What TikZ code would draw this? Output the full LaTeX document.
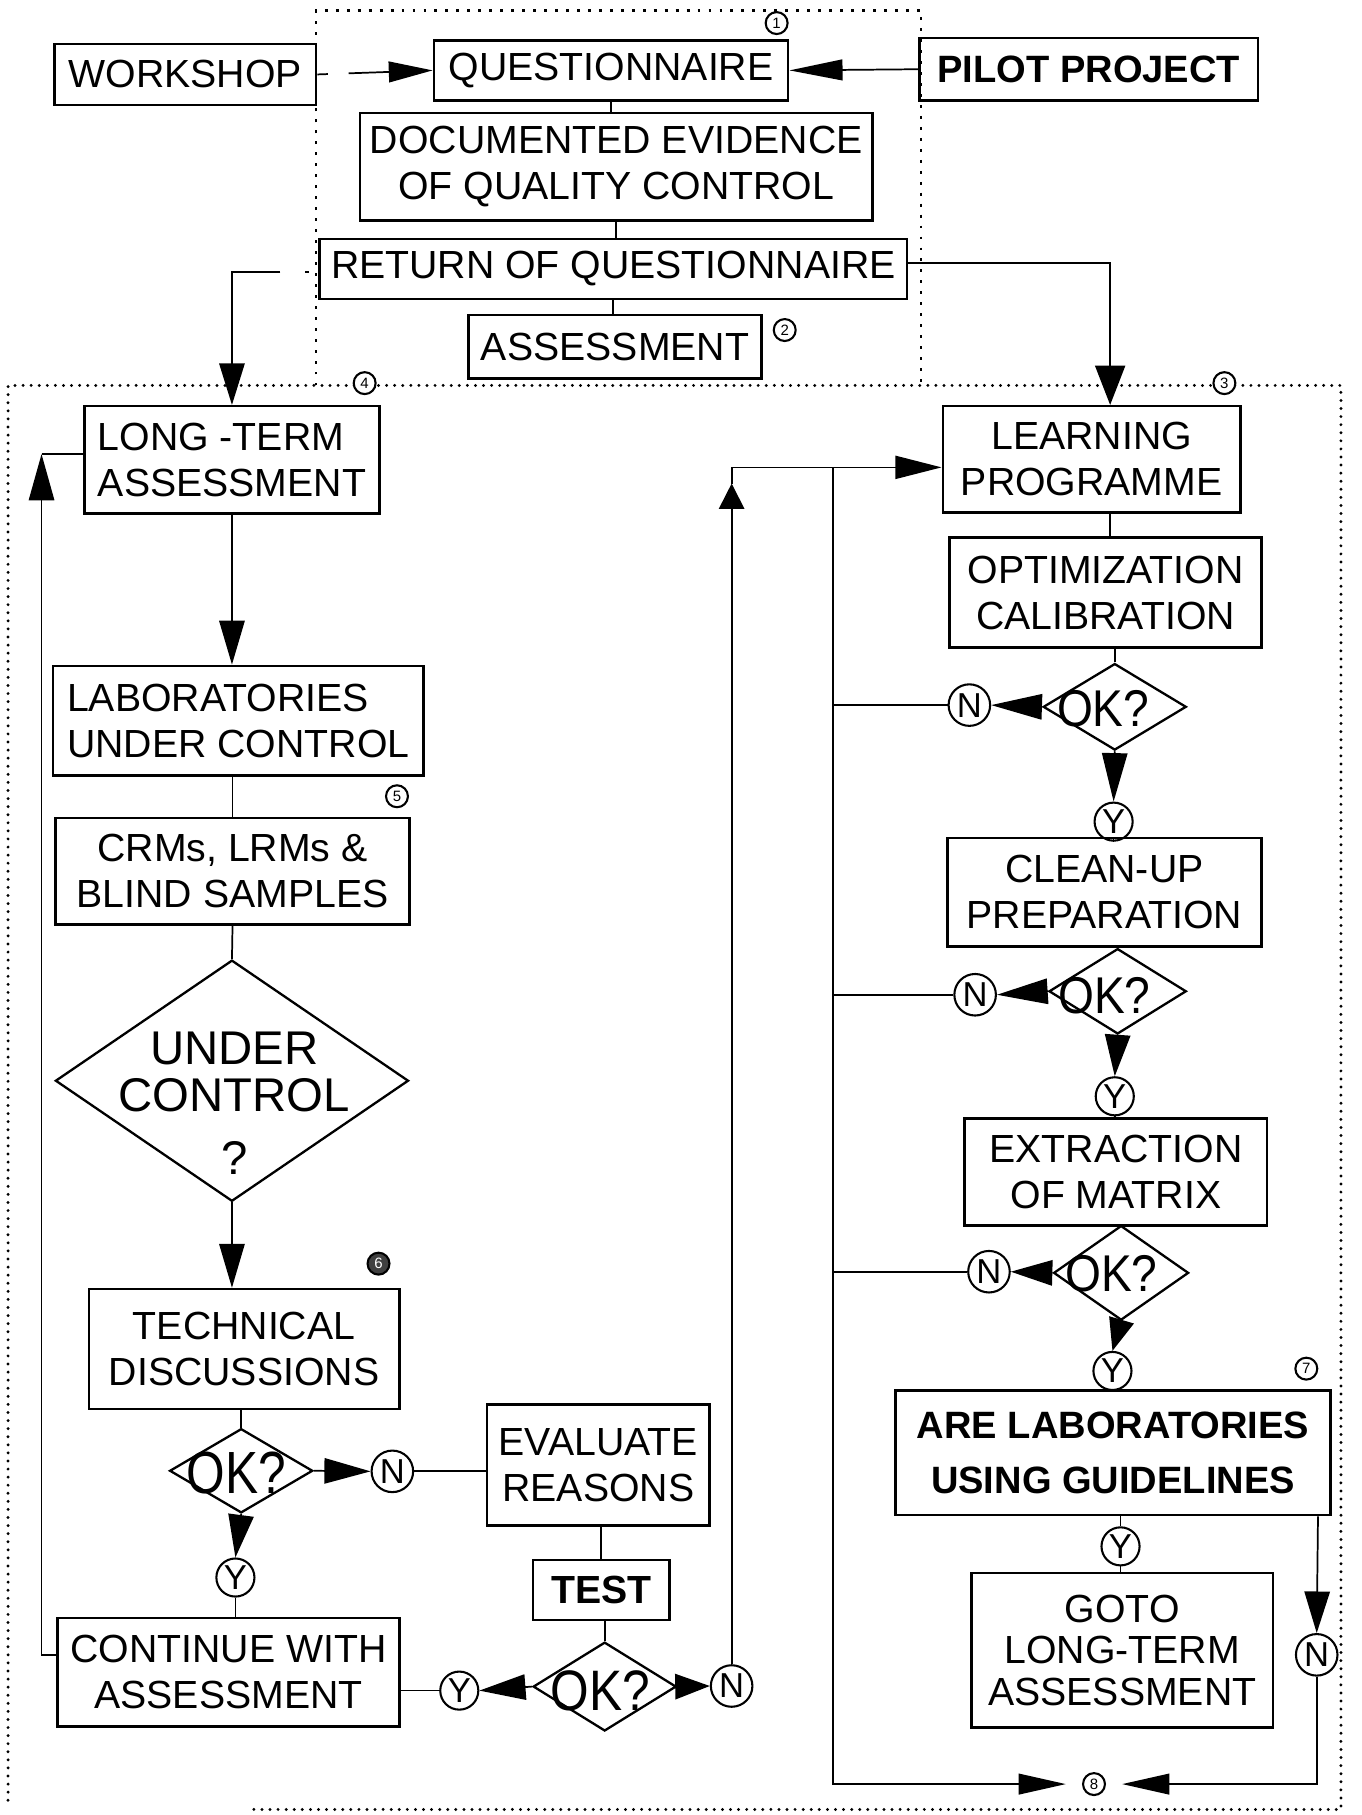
\documentclass[tikz,border=0pt]{standalone}
\usepackage{fontspec}
\usepackage{graphicx}
\setmainfont{Liberation Sans}
\usetikzlibrary{arrows.meta,shapes.geometric}
\begin{document}
\begin{tikzpicture}[x=1pt,y=-1pt,
  box/.style={draw, line width=2.2pt, rectangle, inner sep=0pt, align=center, font=\fontsize{34}{40}\selectfont},
  boxl/.style={box, align=left},
  dia/.style={draw, line width=2pt, diamond, inner sep=0pt},
  okl/.style={inner sep=0pt, font=\fontsize{43}{43}\selectfont},
  okr/.style={inner sep=0pt, font=\fontsize{40}{40}\selectfont},
  yn/.style={draw, circle, line width=1.8pt, inner sep=0pt, minimum size=36pt, fill=white, font=\fontsize{30}{32}\selectfont},
  ys/.style={yn, minimum size=33pt},
  num/.style={draw, circle, line width=1.8pt, inner sep=0pt, minimum size=19pt, fill=white, font=\fontsize{13}{14}\selectfont},
  conn/.style={line width=1.5pt},
  arr/.style={conn, -{Triangle[length=#1,width=22pt]}},
  arr/.default=38pt,
  dotbig/.style={line width=2.8pt, line cap=round, dash pattern=on 0pt off 7pt},
  dotsmall/.style={line width=2pt, dash pattern=on 2.5pt off 7pt},
]
\useasboundingbox (0,0) rectangle (1180.2,1572.8);

% dotted frames
\draw[dotsmall] (274,334) -- (274,9) -- (798,9) -- (798,334);
\draw[dotbig] (7,1560) -- (7,334) -- (1162,334) -- (1162,1568) -- (217,1568);

% top part
\node[box, minimum width=227pt, minimum height=53pt] (ws) at (160.5,64.5) {WORKSHOP};
\node[box, minimum width=307pt, minimum height=52pt] (q) at (529.5,61) {QUESTIONNAIRE};
\node[box, minimum width=293pt, minimum height=54pt, font=\fontsize{33}{40}\selectfont\bfseries] (pilot) at (943.5,60) {PILOT PROJECT};
\node[box, minimum width=444pt, minimum height=93pt] (doc) at (534,144.5) {DOCUMENTED EVIDENCE\\OF QUALITY CONTROL};
\node[box, minimum width=509pt, minimum height=52pt] (ret) at (531.5,233) {RETURN OF QUESTIONNAIRE};
\node[box, minimum width=254pt, minimum height=55pt] (asm) at (533,300.5) {ASSESSMENT};

% left column
\node[boxl, minimum width=256pt, minimum height=93pt] (lt) at (201,398.5) {LONG -TERM\\ASSESSMENT};
\node[boxl, minimum width=321pt, minimum height=95pt] (lab) at (206.5,624.5) {LABORATORIES\\UNDER CONTROL};
\node[box, minimum width=307pt, minimum height=92pt] (crm) at (201.5,755) {CRMs, LRMs \&\\BLIND SAMPLES};
\node[dia, minimum width=306pt, minimum height=209pt] (uc) at (201,936.5) {};
\node[inner sep=0pt, align=center, font=\fontsize{41}{41}\selectfont] (uct) at (203,956) {UNDER\\CONTROL\\[14pt]?};
\node[box, minimum width=269pt, minimum height=104pt] (tech) at (211.5,1169) {TECHNICAL\\DISCUSSIONS};
\node[dia, minimum width=124pt, minimum height=73pt] (ok1) at (209,1274.5) {};
\node[okl] (ok1t) at (205,1276) {\scalebox{1}[1.2]{OK?}};
\node[yn] (n1) at (340,1275) {N};
\node[ys] (y1) at (204,1367) {Y};
\node[box, minimum width=296pt, minimum height=94pt] (cont) at (198,1449) {CONTINUE WITH\\ASSESSMENT};
\node[box, minimum width=193pt, minimum height=105pt] (eval) at (518.5,1269.5) {EVALUATE\\REASONS};
\node[box, minimum width=118pt, minimum height=52pt, font=\fontsize{34}{40}\selectfont\bfseries] (test) at (521,1378) {TEST};
\node[dia, minimum width=124pt, minimum height=77pt] (ok4) at (524,1461.5) {};
\node[okl] (ok4t) at (520,1465) {\scalebox{1}[1.15]{OK?}};
\node[ys] (y4) at (398,1465) {Y};
\node[yn] (n4) at (634,1461) {N};

% right column
\node[box, minimum width=258pt, minimum height=92pt] (learn) at (946,398) {LEARNING\\PROGRAMME};
\node[box, minimum width=270pt, minimum height=95pt] (opt) at (958,513.5) {OPTIMIZATION\\CALIBRATION};
\node[dia, minimum width=124pt, minimum height=75pt] (d1) at (966,612.5) {};
\node[okr] (d1t) at (956,614) {\scalebox{1}[1.12]{OK?}};
\node[yn] (nr1) at (840,611) {N};
\node[ys] (yr1) at (965,712) {Y};
\node[box, minimum width=272pt, minimum height=94pt] (clean) at (957,773) {CLEAN-UP\\PREPARATION};
\node[dia, minimum width=119pt, minimum height=74pt] (d2) at (968.5,859) {};
\node[okr] (d2t) at (957,863) {\scalebox{1}[1.12]{OK?}};
\node[yn] (nr2) at (845,862) {N};
\node[ys] (yr2) at (966,950) {Y};
\node[box, minimum width=262pt, minimum height=93pt] (ext) at (967,1015.5) {EXTRACTION\\OF MATRIX};
\node[dia, minimum width=117pt, minimum height=82pt] (d3) at (971.5,1103) {};
\node[okr] (d3t) at (963,1104) {\scalebox{1}[1.12]{OK?}};
\node[yn] (nr3) at (857,1102) {N};
\node[ys] (yr3) at (964,1188) {Y};
\node[box, minimum width=377pt, minimum height=108pt, font=\fontsize{33}{48}\selectfont\bfseries] (are) at (964.5,1259) {ARE LABORATORIES\\USING GUIDELINES};
\node[ys] (yr4) at (971,1340) {Y};
\node[box, minimum width=261pt, minimum height=134pt, font=\fontsize{34}{36}\selectfont] (goto) at (972.5,1430) {GOTO\\LONG-TERM\\ASSESSMENT};
\node[yn] (nr4) at (1141,1434) {N};
\node[num] (c8) at (948,1546) {8};

% numbered markers
\node[num] (c1) at (673,20) {1};
\node[num] (c2) at (680,286) {2};
\node[num] (c3) at (1061,332) {3};
\node[num] (c4) at (316,332) {4};
\node[num] (c5) at (344,690) {5};
\node[num, fill=black!75, text=white] (c6) at (328,1095) {6};
\node[num] (c7) at (1132,1186) {7};

% helper coordinates
\coordinate (col) at (722,405);
\coordinate (tipUp) at (634,419);
\coordinate (rt) at (962,0);
\coordinate (fb) at (36,0);
\coordinate (ltin) at ([yshift=5pt]lt.west);
\coordinate (contout) at ([yshift=15pt]cont.west);
\coordinate (learnin) at ([yshift=-7pt]learn.west);

% top connectors
\draw[conn, dash pattern=on 9pt off 18pt on 400pt, -{Triangle[length=38pt,width=18pt]}] (ws.east) -- (q.west);
\draw[conn, -{Triangle[length=46pt,width=18pt]}] (pilot.west) -- (q.east);
\draw[conn] (q.south) -- (q.south |- doc.north);
\draw[conn] (doc.south) -- (doc.south |- ret.north);
\draw[conn] (ret.south) -- (ret.south |- asm.north);
\draw[conn, dash pattern=on 0pt off 8pt on 4pt off 21pt on 1000pt, -{Triangle[length=36pt,width=22pt]}] ([yshift=-3pt]ret.west) -| (lt.north);
\draw[conn, -{Triangle[length=34pt,width=26pt]}] ([yshift=5pt]ret.east) -| (rt |- learn.north);

% left connectors
\draw[arr] (lt.south) -- (lt.south |- lab.north);
\draw[conn] (crm.north |- lab.south) -- (crm.north);
\draw[conn] (crm.south) -- (uc.north);
\draw[arr] (uc.south) -- (uc.south |- tech.north);
\draw[conn] (tech.south -| ok1.north) -- (ok1.north);
\draw[arr=40pt] (ok1.east) -- (n1.west);
\draw[conn] (n1.east) -- (n1.east -| eval.west);
\draw[arr=37pt] (ok1.south) -- (y1.north);
\draw[conn] (y1.south) -- (y1.south |- cont.north);
\draw[conn] (eval.south -| test.north) -- (test.north);
\draw[conn] (test.south -| ok4.north) -- (ok4.north);
\draw[arr=40pt] (ok4.west) -- (y4.east);
\draw[conn] (y4.west) -- (y4.west -| cont.east);
\draw[arr=30pt] (ok4.east) -- (n4.west);
\draw[arr=40pt] (contout) -| (fb |- ltin);
\draw[conn] (fb |- ltin) -- (ltin);
\draw[arr=22pt] (n4.north) -- (tipUp);
\draw[conn, -{Triangle[length=40pt,width=20pt]}] (tipUp) |- (learnin);

% right connectors
\draw[conn] (learn.south -| rt) -- (opt.north -| rt);
\draw[conn] (opt.south -| d1.north) -- (d1.north);
\draw[arr=44pt] (d1.west) -- (nr1.east);
\draw[arr=42pt] (d1.south) -- (yr1.north);
\draw[conn] (yr1.south) -- (yr1.south |- clean.north);
\draw[conn] (clean.south -| d2.north) -- (d2.north);
\draw[arr=44pt] (d2.west) -- (nr2.east);
\draw[arr=36pt] (d2.south) -- (yr2.north);
\draw[conn] (yr2.south) -- (yr2.south |- ext.north);
\draw[conn] (ext.south -| d3.north) -- (d3.north);
\draw[arr=36pt] (d3.west) -- (nr3.east);
\draw[arr=28pt] (d3.south) -- (yr3.north);
\draw[conn] (yr3.south) -- (yr3.south |- are.north);
\draw[conn] (are.south -| yr4.north) -- (yr4.north);
\draw[conn] (yr4.south) -- (yr4.south |- goto.north);
\draw[conn] (nr1.west) -- (nr1.west -| col);
\draw[conn] (nr2.west) -- (nr2.west -| col);
\draw[conn] (nr3.west) -- (nr3.west -| col);
\draw[conn, -{Triangle[length=41pt,width=18pt]}] (col) |- ([xshift=-14pt]c8.west);
\draw[arr=36pt] ([xshift=-12pt]are.south east) -- (nr4.north);
\draw[conn, -{Triangle[length=41pt,width=18pt]}] (nr4.south) |- ([xshift=14pt]c8.east);
\end{tikzpicture}
\end{document}
